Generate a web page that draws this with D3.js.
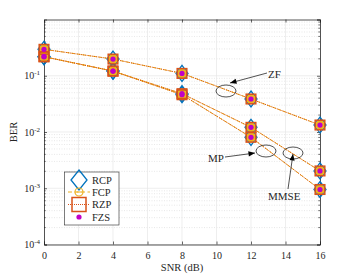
<!DOCTYPE html>
<html><head><meta charset="utf-8">
<script src="https://cdn.jsdelivr.net/npm/d3@7"></script>
<style>body{margin:0;background:#fff}svg{display:block}text{font-family:"Liberation Serif","DejaVu Serif",serif;fill:#262626}</style>
</head><body>
<svg id="c" width="355" height="275"></svg>
<script>
const snr = [0, 4, 8, 12, 16];
const berZF   = [0.295, 0.198, 0.110, 0.0386, 0.0133];
const berMMSE = [0.218, 0.121, 0.048, 0.0121, 0.00203];
const berMP   = [0.218, 0.121, 0.046, 0.00805, 0.00095];
const schemes = ["RCP", "FCP", "RZP", "FZS"];
const xTicks = [0, 2, 4, 6, 8, 10, 12, 14, 16];
const yTickExps = [-4, -3, -2, -1];
const detectors = [berZF, berMMSE, berMP];

const svg = d3.select("#c");
const L = 44, R = 320, T = 19.5, B = 244.5;
const x = d3.scaleLinear().domain([0, 16]).range([L, R]);
const y = d3.scaleLog().domain([1e-4, 1]).range([B, T]);

// grid
const g = svg.append("g");
const minor = [];
for (let e = -4; e < 0; e++) for (let k = 2; k <= 9; k++) minor.push(k * Math.pow(10, e));
g.selectAll(".mn").data(minor).enter().append("line")
  .attr("x1", L).attr("x2", R).attr("y1", d => y(d)).attr("y2", d => y(d))
  .attr("stroke", "#d9d9d9").attr("stroke-width", 0.6).attr("stroke-dasharray", "1,1.5");
g.selectAll(".mj").data(yTickExps).enter().append("line")
  .attr("x1", L).attr("x2", R).attr("y1", d => y(Math.pow(10, d))).attr("y2", d => y(Math.pow(10, d)))
  .attr("stroke", "#e6e6e6").attr("stroke-width", 0.7);
g.selectAll(".xg").data(xTicks.slice(1, -1)).enter().append("line")
  .attr("x1", d => x(d)).attr("x2", d => x(d)).attr("y1", T).attr("y2", B)
  .attr("stroke", "#e6e6e6").attr("stroke-width", 0.7);

// axes
const xAx = svg.append("g").attr("transform", `translate(0,${B})`)
  .call(d3.axisBottom(x).tickValues(xTicks).tickSize(-3).tickPadding(7).tickFormat(d3.format("d")));
const xAxT = svg.append("g").attr("transform", `translate(0,${T})`)
  .call(d3.axisTop(x).tickValues(xTicks).tickSize(-3).tickFormat(""));
const yAx = svg.append("g").attr("transform", `translate(${L},0)`)
  .call(d3.axisLeft(y).tickValues(yTickExps.map(e => Math.pow(10, e))).tickSize(-3).tickFormat(""));
const yAxR = svg.append("g").attr("transform", `translate(${R},0)`)
  .call(d3.axisRight(y).tickValues(yTickExps.concat([0]).map(e => Math.pow(10, e))).tickSize(-3).tickFormat(""));
// minor ticks
[[L, 1.8], [R, -1.8]].forEach(([px, s]) => {
  svg.selectAll(null).data(minor).enter().append("line")
    .attr("x1", px).attr("x2", px + s).attr("y1", d => y(d)).attr("y2", d => y(d))
    .attr("stroke", "#262626").attr("stroke-width", 0.6);
});
[xAx, xAxT, yAx, yAxR].forEach(a => {
  a.select(".domain").attr("stroke", "#262626").attr("stroke-width", 0.8);
  a.selectAll(".tick line").attr("stroke", "#262626").attr("stroke-width", 0.7);
  a.selectAll("text").style("font-family", '"Liberation Serif",serif').style("font-size", "10px").attr("fill", "#262626");
});
// y tick labels with superscripts
yTickExps.forEach(e => {
  const t = svg.append("text").attr("x", 40).attr("y", y(Math.pow(10, e)) + 3.5)
    .attr("text-anchor", "end").style("font-size", "10px");
  t.append("tspan").text("10");
  t.append("tspan").attr("dy", -4).style("font-size", "7px").text(String(e));
});

// lines
const line = vals => d3.line().x((d, i) => x(snr[i])).y(d => y(d))(vals);
detectors.forEach(v => {
  svg.append("path").attr("d", line(v)).attr("fill", "none")
    .attr("stroke", "#EDB120").attr("stroke-width", 1).attr("stroke-dasharray", "4,1.5");
  svg.append("path").attr("d", line(v)).attr("fill", "none")
    .attr("stroke", "#D95319").attr("stroke-width", 1).attr("stroke-dasharray", "1,1.2");
});

// markers
function marker(sel, s, cx, cy, big) {
  if (s === "RCP") {
    const hw = big ? 8 : 6, hh = big ? 10 : 8;
    sel.append("path").attr("d", `M${cx},${cy - hh}L${cx + hw},${cy}L${cx},${cy + hh}L${cx - hw},${cy}Z`)
      .attr("fill", "none").attr("stroke", "#0072BD").attr("stroke-width", 1.3);
  } else if (s === "FCP") {
    sel.append("circle").attr("cx", cx).attr("cy", cy).attr("r", big ? 4 : 3.4)
      .attr("fill", "none").attr("stroke", "#EDB120").attr("stroke-width", big ? 1.2 : 3);
    if (big) sel.append("line").attr("x1", cx - 2.5).attr("x2", cx + 2.5).attr("y1", cy).attr("y2", cy)
      .attr("stroke", "#EDB120").attr("stroke-width", 1);
  } else if (s === "RZP") {
    const h = big ? 7 : 4.8;
    sel.append("rect").attr("x", cx - h).attr("y", cy - h).attr("width", 2 * h).attr("height", 2 * h)
      .attr("fill", "none").attr("stroke", "#D95319").attr("stroke-width", 1.5);
  } else {
    sel.append("circle").attr("cx", cx).attr("cy", cy).attr("r", 2.6).attr("fill", "#C000C8");
  }
}
const mg = svg.append("g");
schemes.forEach(s => detectors.forEach(v => v.forEach((d, i) => marker(mg, s, x(snr[i]), y(d), false))));

// annotations
const ann = svg.append("g").attr("fill", "none").attr("stroke", "#262626").attr("stroke-width", 0.8);
[[226, 91], [266, 151], [293, 153]].forEach(([cx, cy]) =>
  ann.append("ellipse").attr("cx", cx).attr("cy", cy).attr("rx", 10).attr("ry", 6));
function arrow(x1, y1, x2, y2) {
  ann.append("line").attr("x1", x1).attr("y1", y1).attr("x2", x2).attr("y2", y2);
  const a = Math.atan2(y2 - y1, x2 - x1), l = 7, w = 0.38;
  svg.append("path").attr("d", `M${x2},${y2}L${x2 - l * Math.cos(a - w)},${y2 - l * Math.sin(a - w)}L${x2 - l * Math.cos(a + w)},${y2 - l * Math.sin(a + w)}Z`)
    .attr("fill", "#000");
}
arrow(267, 73, 230, 83);
arrow(225, 157, 255, 153);
arrow(288, 189, 293, 154);
svg.append("text").attr("x", 268).attr("y", 78).style("font-size", "11px").text("ZF");
svg.append("text").attr("x", 208).attr("y", 162).style("font-size", "11px").text("MP");
svg.append("text").attr("x", 268).attr("y", 200).style("font-size", "11px").text("MMSE");

// legend
const lg = svg.append("g");
lg.append("rect").attr("x", 64.5).attr("y", 172).attr("width", 54.5).attr("height", 53)
  .attr("fill", "#fff").attr("stroke", "#262626").attr("stroke-width", 0.6);
const ly = [180, 192, 204.5, 217];
schemes.forEach((s, i) => {
  if (s === "FCP") lg.append("line").attr("x1", 68).attr("x2", 90).attr("y1", ly[i]).attr("y2", ly[i])
    .attr("stroke", "#EDB120").attr("stroke-width", 1).attr("stroke-dasharray", "4,2.5");
  if (s === "RZP") lg.append("line").attr("x1", 68).attr("x2", 90).attr("y1", ly[i]).attr("y2", ly[i])
    .attr("stroke", "#D95319").attr("stroke-width", 1).attr("stroke-dasharray", "1,1");
  marker(lg, s, 79, ly[i], true);
  lg.append("text").attr("x", 92).attr("y", ly[i] + 3.5).style("font-size", "10.5px").text(s);
});

// labels
svg.append("text").attr("x", 182).attr("y", 271).attr("text-anchor", "middle").style("font-size", "10.5px").text("SNR (dB)");
svg.append("text").attr("transform", "translate(17,132) rotate(-90)").attr("text-anchor", "middle").style("font-size", "10.5px").text("BER");
</script>
</body></html>
